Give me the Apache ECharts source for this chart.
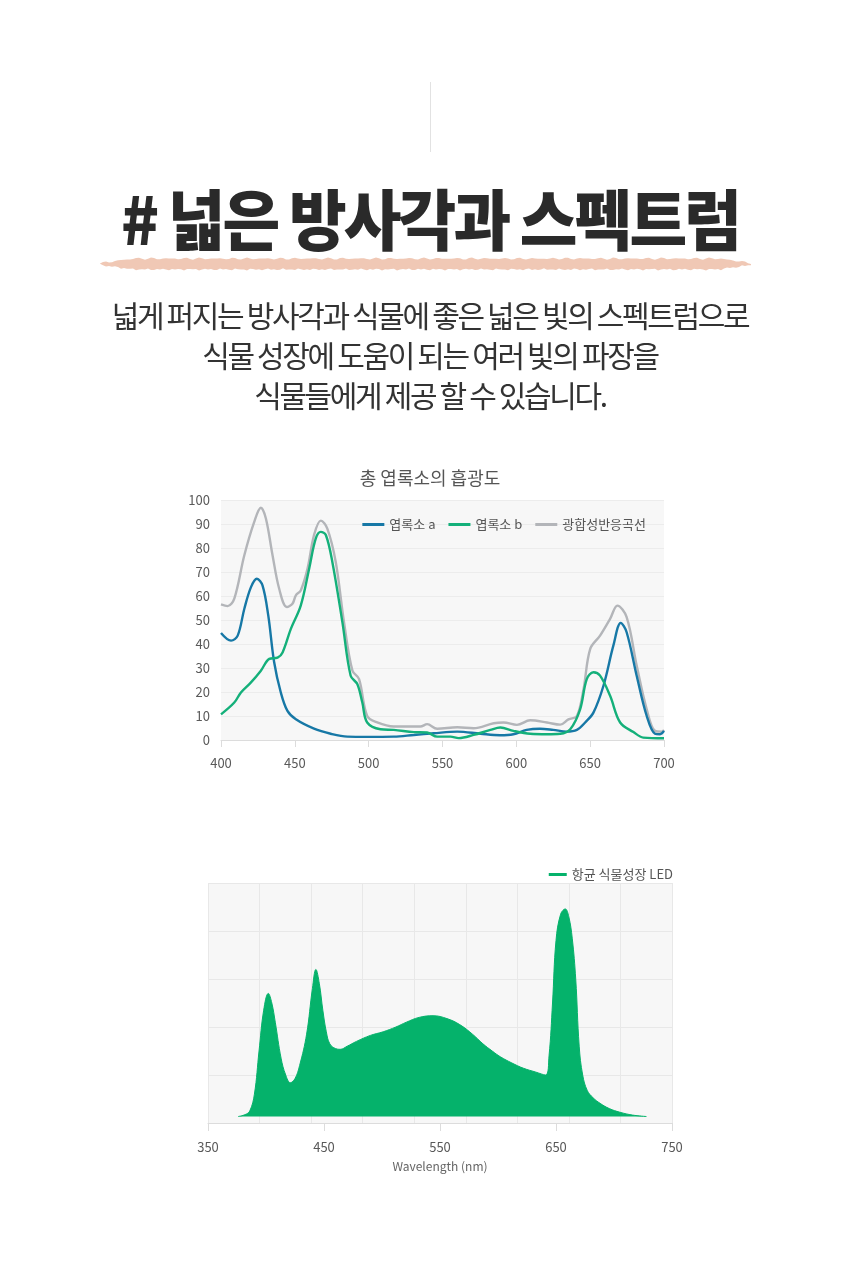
<!DOCTYPE html>
<html>
<head>
<meta charset="utf-8">
<script src="https://cdn.jsdelivr.net/npm/echarts@6/dist/echarts.min.js"></script>
<style>
  html, body { margin: 0; padding: 0; background: #fff; }
  #page { position: relative; width: 860px; height: 1263px; overflow: hidden; }
  #chart { position: absolute; left: 0; top: 0; width: 860px; height: 1263px; }
  .vline { position: absolute; left: 430px; top: 82px; width: 1px; height: 70px; background: #e2e2e2; }
  .title {
    position: absolute; left: 0; top: 172px; width: 860px; text-align: center;
    font-family: "Noto Sans CJK KR", sans-serif; font-weight: 900; font-size: 66px;
    color: #2a2a2a; letter-spacing: -3px; line-height: 88px;
    transform: scaleX(0.95); transform-origin: 430px 0;
  }
  #brush { position: absolute; left: 0; top: 250px; }
  .desc {
    position: absolute; left: 0; top: 294px; width: 860px; text-align: center;
    font-family: "Noto Sans CJK KR", sans-serif; font-weight: 400; font-size: 30px;
    color: #333; letter-spacing: -2.35px; line-height: 40px;
  }
</style>
</head>
<body>
<div id="page">
  <div id="chart"></div>
  <div class="vline"></div>
  <div class="title"># 넓은 방사각과 스펙트럼</div>
  <svg id="brush" width="860" height="30"></svg>
  <div class="desc">넓게 퍼지는 방사각과 식물에 좋은 넓은 빛의 스펙트럼으로<br>식물 성장에 도움이 되는 여러 빛의 파장을<br>식물들에게 제공 할 수 있습니다.</div>
</div>
<script>
// 총 엽록소의 흡광도
let aWave = [400, 406.8, 411.3, 415.8, 420.3, 424.3, 428.1, 432, 436, 440.5, 445, 450.7, 463, 474.3, 485.6, 499, 517, 530.6, 544, 560, 575.7, 589, 598, 607, 616, 625, 634, 641, 646.6, 652.2, 659, 665.7, 670.7, 674.7, 681.5, 688.3, 693.9, 697.3, 700]
let aAbs = [44.6, 41.4, 43.5, 54.7, 63.7, 67.2, 64.4, 51.9, 32.4, 19.8, 12.1, 8.6, 4.7, 2.6, 1.4, 1.3, 1.4, 2.1, 2.8, 3.5, 2.6, 2.0, 2.4, 4.2, 4.7, 4.2, 3.5, 4.2, 7.3, 11.4, 22.6, 39.3, 48.8, 44.9, 26.8, 10, 2.6, 2.4, 3.8]
let bWave = [400, 409, 413.5, 420.3, 427, 432.7, 438.3, 441.7, 447.3, 454, 459.7, 464.2, 467.6, 471, 475.4, 482.2, 487.8, 492.3, 495.7, 499, 508, 517, 530.6, 539.6, 546.4, 555.4, 561, 571, 582.4, 589.2, 598, 609.4, 620.7, 629.7, 636.5, 643.2, 647.7, 652.2, 656.7, 663.5, 670.3, 679.3, 686, 700]
let bAbs = [10.7, 15.6, 19.8, 24, 28.9, 33.8, 34.3, 36.5, 46.3, 56, 71.4, 84, 86.7, 85.4, 74.2, 49.1, 26.8, 23.3, 15.6, 7.3, 4.5, 4.2, 3.3, 3.1, 1.4, 1.4, 0.8, 2.1, 4.2, 5.2, 3.8, 2.6, 2.4, 2.6, 4.5, 12.8, 25.4, 28.2, 26.8, 18.4, 7.3, 3.3, 1.0, 0.7]
let pWave = [400, 404.5, 409, 415.8, 422.5, 427, 430.4, 434.9, 439.4, 444.6, 448.4, 450.7, 454, 458.6, 463, 467.6, 472, 477.7, 483.3, 489, 493.5, 499, 505.8, 517, 535, 539.6, 546.4, 560, 571, 584.7, 591.4, 600.4, 609.4, 620.7, 629.7, 635.3, 641, 645.5, 650, 656.7, 663.5, 668.4, 674.7, 681.5, 688.3, 693.9, 698.4, 700]
let pAbs = [56.5, 55.8, 58.9, 77, 90.9, 96.8, 92.3, 77, 63, 55.4, 56.8, 60.3, 62.3, 71.4, 85.4, 91.4, 88.1, 74.2, 49.1, 28.9, 25.4, 10, 7.3, 5.6, 5.6, 6.6, 4.7, 5.3, 4.9, 7.0, 7.3, 6.3, 8.2, 7.3, 6.4, 8.6, 10, 21.2, 37.9, 43.5, 50.5, 56, 51.2, 31, 12.8, 3.8, 3.5, 4.2]
let absNames = ['엽록소 a', '엽록소 b', '광합성반응곡선']
let absYTicks = [0, 100, 10]
let absXTicks = [400, 700, 50]

// 항균 식물성장 LED
let ledWave = [376, 382, 386, 390, 394, 398, 402, 405, 408, 413, 417, 421, 425, 429, 435, 440, 443, 446, 449, 452, 455, 460, 464, 470, 478, 490, 501, 512, 521, 532, 544, 556, 567, 578, 587, 595, 602, 612, 622, 632, 641, 644, 647, 650, 654, 658, 661, 664, 667, 670, 673, 677, 682, 688, 696, 705, 716, 728]
let ledVal = [2.7, 3.5, 5, 12, 30, 47, 54, 50, 42, 27, 20, 16.8, 18.5, 24, 37, 56, 64, 58, 47, 38, 33, 31, 30.7, 32, 34, 36.5, 38, 40, 42, 44, 44.7, 43.5, 41, 37, 33, 30, 27.6, 25, 22.8, 21.3, 20, 28, 50, 76, 87, 89.2, 86, 77, 60, 32, 20, 13.5, 10.5, 8.2, 6, 4.5, 3.3, 2.7]
let ledName = '항균 식물성장 LED'
let ledXTicks = [350, 750, 100]
let ledBase = 2.7

let colors = ['#1778a6', '#14b07a', '#b3b5b9']
let ledColor = '#05b26b'

function pairs(xs, ys) {
  return xs.map(function (x, i) { return [x, ys[i]] })
}

// brush stroke under title
let svg = document.getElementById('brush')
let upper = [], lower = []
for (let x = 100; x <= 752; x += 3) {
  let t = (x - 100) / 652
  let taper = Math.min(1, t * 20, (1 - t) * 20)
  let h = 4.6 * taper + 0.8
  let n1 = Math.sin(x * 1.7) * 0.6 + Math.sin(x * 0.53) * 0.5
  let n2 = Math.sin(x * 1.3 + 1) * 0.6 + Math.cos(x * 0.41) * 0.5
  upper.push(x + ',' + (14 - h + n1).toFixed(1))
  lower.unshift(x + ',' + (14 + h + n2).toFixed(1))
}
svg.innerHTML = '<polygon points="' + upper.concat(lower).join(' ') + '" fill="#f0c8b5"/>'

let chart = echarts.init(document.getElementById('chart'))
let lab = { color: '#595959', fontSize: 13, fontFamily: 'Noto Sans CJK KR' }
let option = {
  animation: false,
  title: {
    text: '총 엽록소의 흡광도', left: 'center', top: 464,
    textStyle: { fontSize: 18, fontWeight: 'normal', color: '#555', fontFamily: 'Noto Sans CJK KR' }
  },
  legend: [{
    data: absNames, right: 209, top: 513, itemWidth: 22, itemHeight: 3, itemGap: 13,
    icon: 'rect', textStyle: { color: '#555', fontSize: 13, fontFamily: 'Noto Sans CJK KR' }
  }, {
    data: [ledName], right: 182, top: 863, itemWidth: 18, itemHeight: 3,
    icon: 'rect', textStyle: { color: '#555', fontSize: 13, fontFamily: 'Noto Sans CJK KR' }
  }],
  grid: [
    { left: 221, right: 196, top: 500, bottom: 523, show: true, backgroundColor: '#f7f7f7', borderWidth: 0 },
    { left: 208, right: 188, top: 883, bottom: 140, show: true, backgroundColor: '#f7f7f7', borderWidth: 0 }
  ],
  xAxis: [{
    gridIndex: 0, type: 'value', min: absXTicks[0], max: absXTicks[1], interval: absXTicks[2],
    axisLine: { lineStyle: { color: '#dcdcdc' } },
    axisTick: { show: true, length: 7, lineStyle: { color: '#dcdcdc' } },
    axisLabel: Object.assign({ margin: 17 }, lab), splitLine: { show: false }
  }, {
    gridIndex: 1, type: 'value', min: ledXTicks[0], max: ledXTicks[1], interval: ledXTicks[2],
    name: 'Wavelength (nm)', nameLocation: 'middle', nameGap: 37,
    nameTextStyle: { color: '#666', fontSize: 12, fontFamily: 'Noto Sans CJK KR' },
    axisLine: { lineStyle: { color: '#dcdcdc' } },
    axisTick: { show: true, length: 8, lineStyle: { color: '#dcdcdc' } },
    axisLabel: Object.assign({ margin: 18 }, lab), splitLine: { show: false }
  }, {
    gridIndex: 1, type: 'value', min: 0, max: 9, interval: 1, position: 'top',
    axisLine: { show: false }, axisTick: { show: false }, axisLabel: { show: false },
    splitLine: { show: true, lineStyle: { color: '#e8e8e8' } }
  }],
  yAxis: [{
    gridIndex: 0, type: 'value', min: absYTicks[0], max: absYTicks[1], interval: absYTicks[2],
    axisLine: { show: false }, axisTick: { show: false },
    axisLabel: Object.assign({ margin: 11 }, lab),
    splitLine: { lineStyle: { color: '#ececec' } }
  }, {
    gridIndex: 1, type: 'value', min: 0, max: 100, interval: 20,
    axisLine: { show: false }, axisTick: { show: false }, axisLabel: { show: false },
    splitLine: { lineStyle: { color: '#e8e8e8' } }
  }],
  series: [
    { name: absNames[0], type: 'line', xAxisIndex: 0, yAxisIndex: 0, data: pairs(aWave, aAbs), smooth: 0.35, symbol: 'none', lineStyle: { width: 2.4, color: colors[0] }, itemStyle: { color: colors[0] } },
    { name: absNames[1], type: 'line', xAxisIndex: 0, yAxisIndex: 0, data: pairs(bWave, bAbs), smooth: 0.35, symbol: 'none', lineStyle: { width: 2.4, color: colors[1] }, itemStyle: { color: colors[1] } },
    { name: absNames[2], type: 'line', xAxisIndex: 0, yAxisIndex: 0, data: pairs(pWave, pAbs), smooth: 0.35, symbol: 'none', lineStyle: { width: 2.4, color: colors[2] }, itemStyle: { color: colors[2] }, z: 1 },
    { name: ledName, type: 'line', xAxisIndex: 1, yAxisIndex: 1, data: pairs(ledWave, ledVal), smooth: 0.4, symbol: 'none',
      lineStyle: { width: 1, color: ledColor }, itemStyle: { color: ledColor },
      areaStyle: { color: ledColor, opacity: 1, origin: ledBase } }
  ]
}
chart.setOption(option)
</script>
</body>
</html>
